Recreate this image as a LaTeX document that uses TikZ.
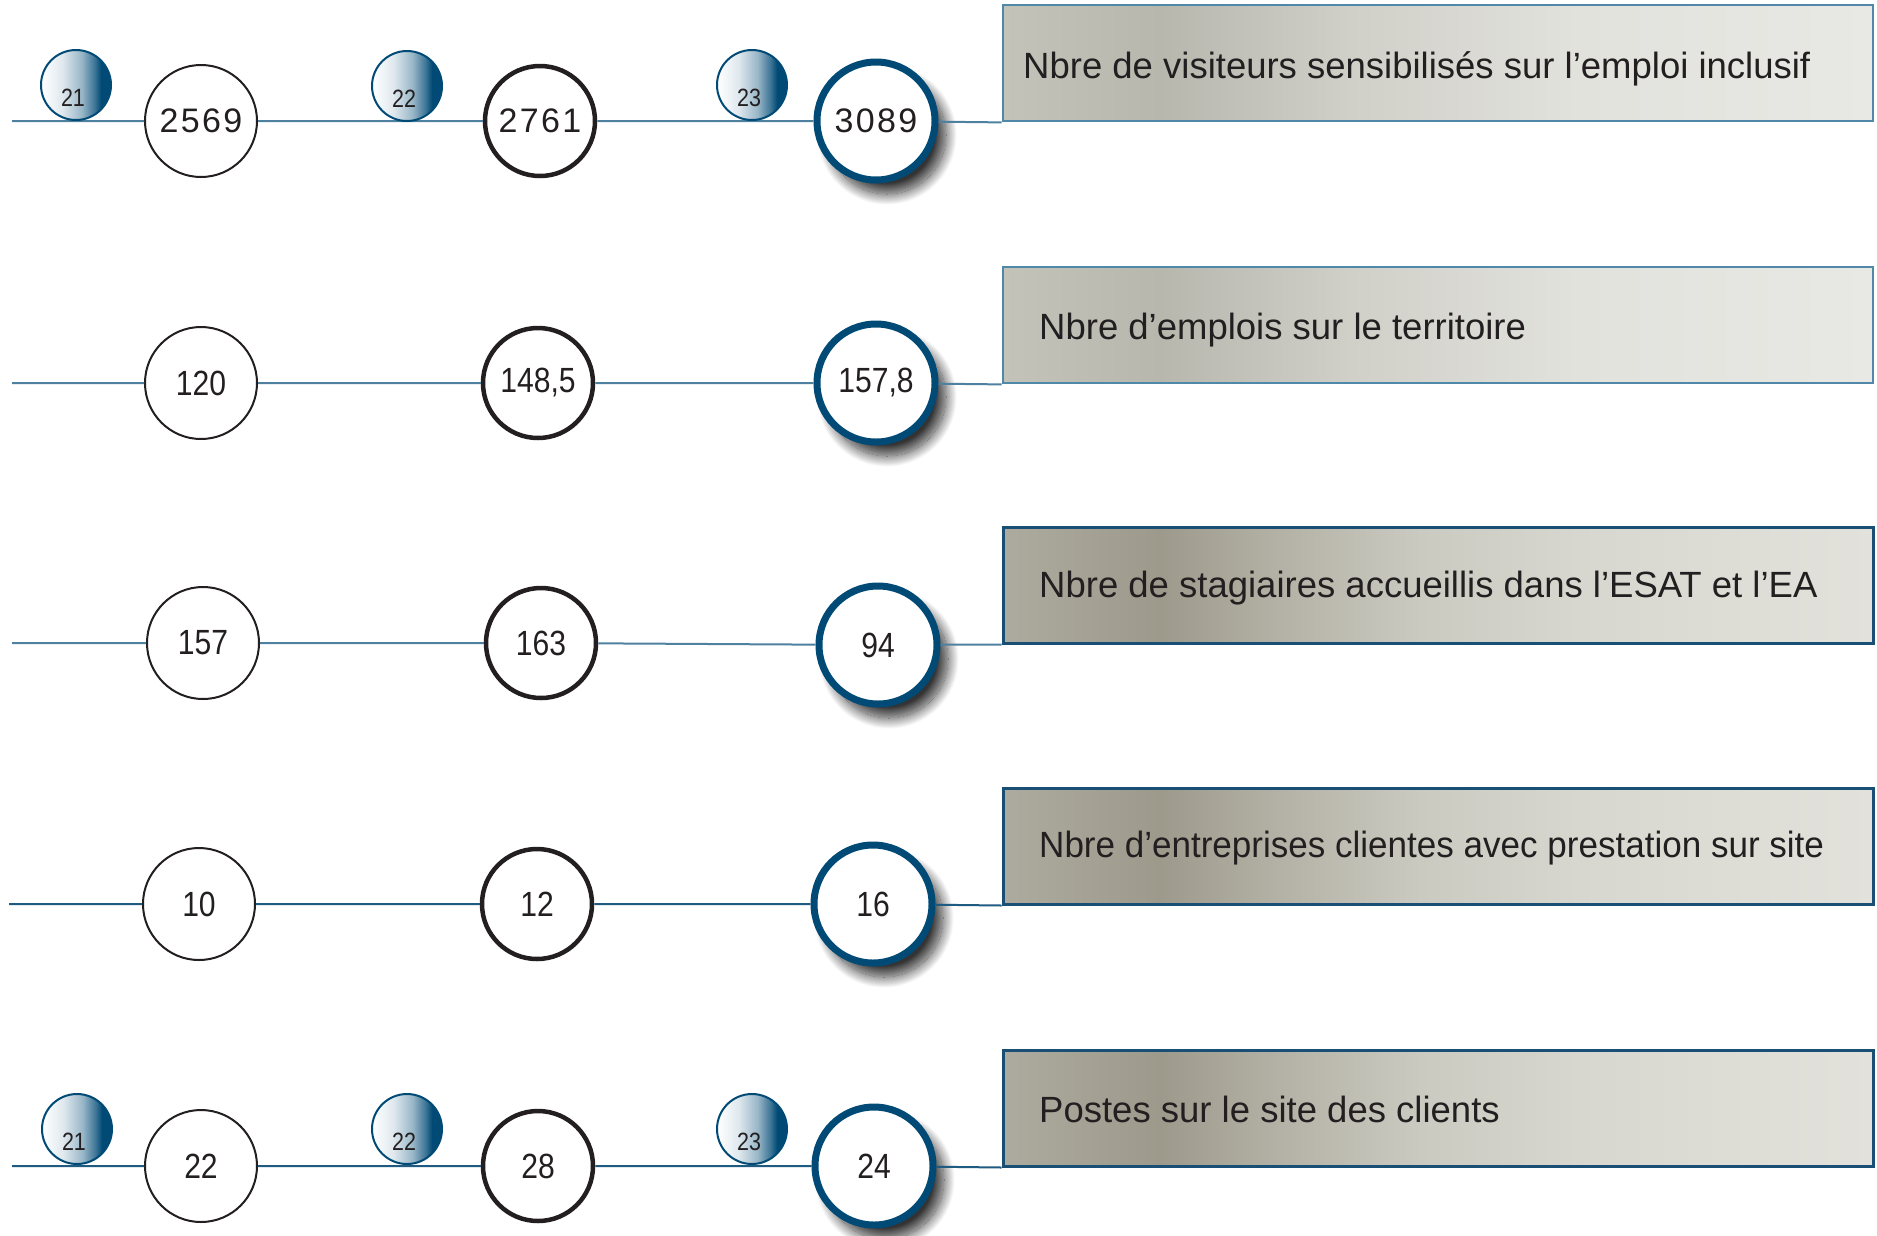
\documentclass[tikz,border=0pt]{standalone}
\usepackage{fontspec}
\setmainfont{Liberation Sans}
\newfontfamily\narrowfont[FakeStretch=0.86]{Liberation Sans}
\newfontfamily\condfont[FakeStretch=0.96]{Liberation Sans}
\newfontfamily\widefont[LetterSpace=7]{Liberation Sans}
\usetikzlibrary{shadows.blur}
\definecolor{linec}{HTML}{4D819F}
\definecolor{lined}{HTML}{1F5A80}
\definecolor{darkblue}{HTML}{004A75}
\definecolor{ink}{HTML}{231F20}
\definecolor{boxlight}{HTML}{5088AA}
\definecolor{boxdark}{HTML}{1A4F75}
\pgfdeclarehorizontalshading{ballshade}{100bp}{color(0bp)=(white); color(25bp)=(white); color(40bp)=(white!88!darkblue); color(54bp)=(white!60!darkblue); color(63bp)=(white!25!darkblue); color(68bp)=(darkblue); color(100bp)=(darkblue)}
\definecolor{bA1}{HTML}{C4C3BA}
\definecolor{bA2}{HTML}{B8B7AE}
\definecolor{bA3}{HTML}{D0CFC8}
\definecolor{bA4}{HTML}{E2E2DD}
\definecolor{bA5}{HTML}{E8E8E4}
\definecolor{bB1}{HTML}{ADAB9F}
\definecolor{bB2}{HTML}{9D9A8C}
\definecolor{bB3}{HTML}{B4B2A6}
\definecolor{bB4}{HTML}{CBCAC1}
\definecolor{bB5}{HTML}{D8D7CF}
\definecolor{bB6}{HTML}{E2E1DB}
\pgfdeclarehorizontalshading{boxA}{100bp}{color(0bp)=(bA1); color(25bp)=(bA1); color(34bp)=(bA2); color(45bp)=(bA3); color(58bp)=(bA4); color(75bp)=(bA5); color(100bp)=(bA5)}
\pgfdeclarehorizontalshading{boxB}{100bp}{color(0bp)=(bB1); color(25bp)=(bB1); color(34bp)=(bB2); color(41bp)=(bB3); color(49bp)=(bB4); color(58bp)=(bB5); color(75bp)=(bB6); color(100bp)=(bB6)}
\tikzset{
  numc/.style={circle, inner sep=0pt, fill=white, text=ink, font=\narrowfont\fontsize{35}{38}\selectfont},
  cone/.style={numc, draw=ink, line width=2pt, minimum size=112pt},
  ctwo/.style={numc, draw=ink, line width=4.5pt, minimum size=110pt},
  cthree/.style={numc, draw=darkblue, line width=7pt, minimum size=118pt,
     blur shadow={shadow xshift=11pt, shadow yshift=-14pt, shadow blur radius=11pt, shadow blur steps=25, shadow opacity=80}},
  wide/.style={font=\widefont\fontsize{34}{37}\selectfont},
  ball/.style={circle, inner sep=0pt, minimum size=70pt, draw=darkblue, line width=2pt, shading=ballshade},
  balltext/.style={inner sep=0pt, text=ink, font=\narrowfont\fontsize{25}{27}\selectfont},
  rowline/.style={draw=linec, line width=2pt},
  rowlinedark/.style={draw=lined, line width=2pt},
  boxa/.style={rectangle, inner sep=0pt, minimum width=870pt, minimum height=116pt, draw=boxlight, line width=2.8pt, shading=boxA},
  boxb/.style={rectangle, inner sep=0pt, minimum width=870pt, minimum height=116pt, draw=boxdark, line width=3pt, shading=boxB},
  boxtext/.style={anchor=base west, inner sep=0pt, text=ink, font=\fontsize{36.5}{40}\selectfont}
}
\begin{document}
\begin{tikzpicture}[x=1pt, y=-1pt]
\useasboundingbox (0,0) rectangle (1877,1235);
% boxes
\node[boxa] (box1) at (1438,63) {};
\node[boxa] (box2) at (1438,325) {};
\node[boxb] (box3) at (1438,585) {};
\node[boxb] (box4) at (1438,846) {};
\node[boxb] (box5) at (1438,1108) {};
\node[boxtext] (t1) at (1023,78) {Nbre de visiteurs sensibilisés sur l’emploi inclusif};
\node[boxtext] (t2) at (1039,339) {Nbre d’emplois sur le territoire};
\node[boxtext] (t3) at (1039,597) {Nbre de stagiaires accueillis dans l’ESAT et l’EA};
\node[boxtext, font=\condfont\fontsize{36.5}{40}\selectfont] (t4) at (1039,857) {Nbre d’entreprises clientes avec prestation sur site};
\node[boxtext] (t5) at (1039,1122) {Postes sur le site des clients};
% start coordinates
\coordinate (s1) at (12,121);
\coordinate (s2) at (12,383);
\coordinate (s3) at (12,643);
\coordinate (s4) at (9,904);
\coordinate (s5) at (12,1166);
% row 1
\node[cone, wide] (n11) at (201,121) {2569};
\node[ctwo, wide] (n12) at (540,121) {2761};
\node[cthree, wide] (n13) at (876,121) {3089};
% row 2
\node[cone] (n21) at (201,383) {120};
\node[ctwo] (n22) at (538,383) {148,5};
\node[cthree] (n23) at (876,383) {157,8};
% row 3
\node[cone] (n31) at (203,643) {157};
\node[ctwo] (n32) at (541,643) {163};
\node[cthree] (n33) at (878,645) {\raisebox{-4pt}{94}};
% row 4
\node[cone] (n41) at (199,904) {10};
\node[ctwo] (n42) at (537,904) {12};
\node[cthree] (n43) at (873,904) {16};
% row 5
\node[cone] (n51) at (201,1166) {22};
\node[ctwo] (n52) at (538,1166) {28};
\node[cthree] (n53) at (874,1166) {24};
% connectors
\draw[rowline] (s1) -- (n11) (n11) -- (n12) (n12) -- (n13) (n13) -- (box1.south west);
\draw[rowline] (s2) -- (n21) (n21) -- (n22) (n22) -- (n23) (n23) -- (box2.south west);
\draw[rowline] (s3) -- (n31) (n31) -- (n32) (n32) -- (n33) (n33) -- (box3.south west);
\draw[rowlinedark] (s4) -- (n41) (n41) -- (n42) (n42) -- (n43) (n43) -- (box4.south west);
\draw[rowlinedark] (s5) -- (n51) (n51) -- (n52) (n52) -- (n53) (n53) -- (box5.south west);
% year balls row 1
\node[ball] (b11) at (76,85) {};
\node[ball] (b12) at (407,86) {};
\node[ball] (b13) at (752,85) {};
\node[balltext, xshift=-3pt, yshift=-13pt] (y11) at (b11.center) {21};
\node[balltext, xshift=-3pt, yshift=-13pt] (y12) at (b12.center) {22};
\node[balltext, xshift=-3pt, yshift=-13pt] (y13) at (b13.center) {23};
% year balls row 5
\node[ball] (b51) at (77,1129) {};
\node[ball] (b52) at (407,1129) {};
\node[ball] (b53) at (752,1129) {};
\node[balltext, xshift=-3pt, yshift=-13pt] (y51) at (b51.center) {21};
\node[balltext, xshift=-3pt, yshift=-13pt] (y52) at (b52.center) {22};
\node[balltext, xshift=-3pt, yshift=-13pt] (y53) at (b53.center) {23};
\end{tikzpicture}
\end{document}
